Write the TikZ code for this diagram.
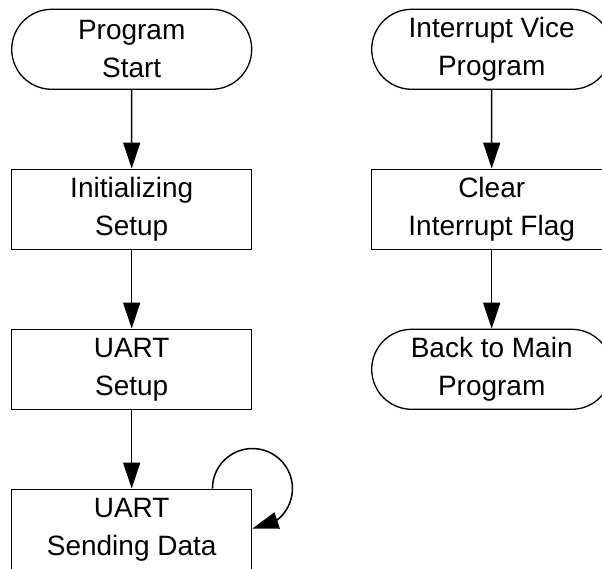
\documentclass[tikz,border=0pt]{standalone}
\usepackage{fontspec}
\setmainfont{Liberation Sans}
\usetikzlibrary{arrows.meta,bending,shapes.misc}
\begin{document}
\begin{tikzpicture}[x=1pt,y=1pt,
  every node/.style={align=center,font=\fontsize{28}{38}\selectfont,inner sep=0pt},
  procbox/.style={draw,line width=1.5pt,rectangle,minimum width=240pt,minimum height=80pt},
  termbox/.style={draw,line width=1.3pt,rounded rectangle,minimum width=240pt,minimum height=80pt},
  flow/.style={line width=1.5pt,-{Triangle[length=26pt,width=17pt]}}]
\useasboundingbox (0,0) rectangle (602,568);
% main program column
\node[termbox] (start) at (131.7,518.7) {Program\\Start};
\node[procbox] (init)  at (131.7,358.7) {Initializing\\Setup};
\node[procbox] (uart)  at (131.7,198.7) {UART\\Setup};
\node[procbox] (send)  at (131.7,38.7)  {UART\\Sending Data};
% interrupt service column
\node[termbox] (isr)   at (491.7,518.7) {Interrupt Vice\\Program};
\node[procbox] (clr)   at (491.7,358.7) {Clear\\Interrupt Flag};
\node[termbox] (back)  at (491.7,198.7) {Back to Main\\Program};
% connectors
\draw[flow] (start) -- (init);
\draw[flow] (init) -- (uart);
\draw[flow] (uart) -- (send);
\draw[flow] (isr) -- (clr);
\draw[flow] (clr) -- (back);
% repeat loop on the sending step
\draw[flow] ([xshift=-40pt]send.north east) arc[start angle=180,end angle=-90,radius=40pt];
\end{tikzpicture}
\end{document}
